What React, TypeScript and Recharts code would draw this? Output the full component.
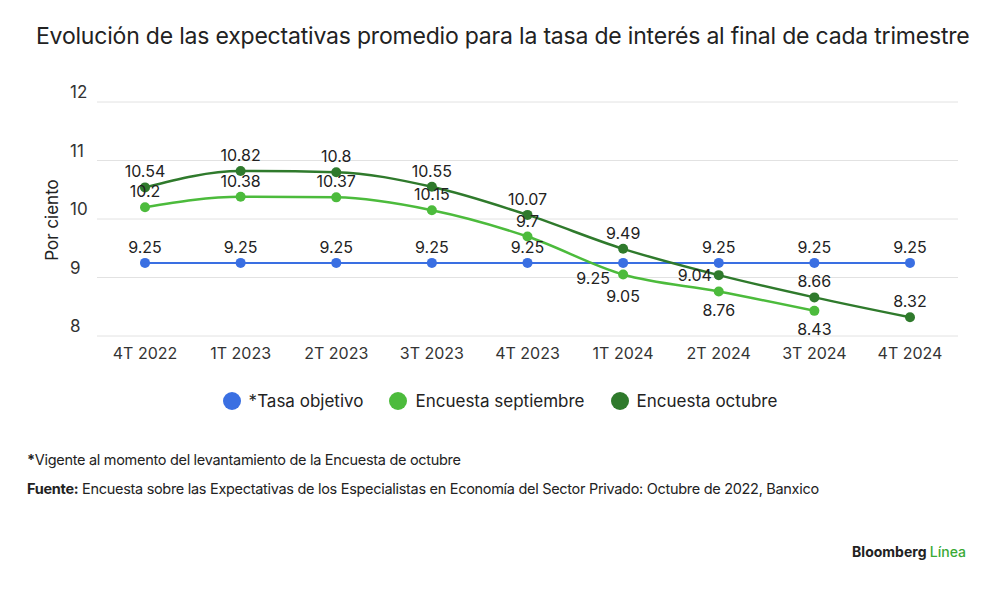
import React from 'react'
import { LineChart, Line, XAxis, YAxis, CartesianGrid, LabelList } from 'recharts'

const categories = ['4T 2022', '1T 2023', '2T 2023', '3T 2023', '4T 2023', '1T 2024', '2T 2024', '3T 2024', '4T 2024']
const tasaObjetivo = [9.25, 9.25, 9.25, 9.25, 9.25, 9.25, 9.25, 9.25, 9.25]
const encuestaSeptiembre = [10.2, 10.38, 10.37, 10.15, 9.7, 9.05, 8.76, 8.43, null]
const encuestaOctubre = [10.54, 10.82, 10.8, 10.55, 10.07, 9.49, 9.04, 8.66, 8.32]
const yTicks = [8, 9, 10, 11, 12]

const data = categories.map((c, i) => ({
  cat: c,
  tasa: tasaObjetivo[i],
  sep: encuestaSeptiembre[i],
  oct: encuestaOctubre[i],
}))

const BLUE = '#3a6fe2'
const LIGHT = '#4cbb3c'
const DARK = '#2f7a2c'
const FONT = 'Inter, "Noto Sans", sans-serif'

const YTick = (props: any) => (
  <text x={70} y={props.y - 4} fontSize={17} fill="#333" fontFamily={FONT}>
    {props.payload.value}
  </text>
)

const txt = (x: number, y: number, v: any) => (
  <text x={x} y={y} textAnchor="middle" fontSize={16} fill="#222" fontFamily={FONT}>
    {v}
  </text>
)

const sepLabel = (props: any) => {
  const { x, y, value, index } = props
  if (value == null) return null
  if (index === 5) return txt(x, y + 27, value)
  return index >= 5 ? txt(x, y + 24, value) : txt(x, y - 10, value)
}

const tasaLabel = (props: any) => {
  const { x, y, value, index } = props
  return index === 5 ? txt(x - 30, y + 21, value) : txt(x, y - 10, value)
}

const octLabel = (props: any) => {
  const { x, y, value, index } = props
  return index === 6 ? txt(x - 24, y + 6, value) : txt(x, y - 10, value)
}

const Dot = (color: string) => (p: any) =>
  p.value == null ? null : <circle cx={p.cx} cy={p.cy} r={5} fill={color} />

const legend = [
  { label: '*Tasa objetivo', color: BLUE },
  { label: 'Encuesta septiembre', color: LIGHT },
  { label: 'Encuesta octubre', color: DARK },
]

export default function App() {
  return (
    <div style={{ position: 'relative', width: 1000, height: 589, margin: -8, background: '#fff', fontFamily: FONT, color: '#222' }}>
      <div style={{ position: 'absolute', left: 36, top: 22, fontSize: 23, letterSpacing: -0.2 }}>
        Evolución de las expectativas promedio para la tasa de interés al final de cada trimestre
      </div>
      <div style={{ position: 'absolute', left: 0, top: 0 }}>
        <LineChart width={1000} height={380} data={data} margin={{ top: 102, right: 42, left: 0, bottom: 14 }}>
          <CartesianGrid vertical={false} stroke="#e2e2e2" />
          <XAxis dataKey="cat" axisLine={false} tickLine={false} height={30} padding={{ left: 48, right: 48 }}
            tick={{ fontSize: 16, fill: '#333', fontFamily: FONT }} dy={4} />
          <YAxis domain={[8, 12]} ticks={yTicks} width={97} axisLine={false} tickLine={false} tick={<YTick />} />
          <Line dataKey="tasa" stroke={BLUE} strokeWidth={2} dot={Dot(BLUE)} isAnimationActive={false}>
            <LabelList dataKey="tasa" content={tasaLabel} />
          </Line>
          <Line dataKey="sep" type="monotone" stroke={LIGHT} strokeWidth={2.5} dot={Dot(LIGHT)} isAnimationActive={false}>
            <LabelList dataKey="sep" content={sepLabel} />
          </Line>
          <Line dataKey="oct" type="monotone" stroke={DARK} strokeWidth={2.5} dot={Dot(DARK)} isAnimationActive={false}>
            <LabelList dataKey="oct" content={octLabel} />
          </Line>
        </LineChart>
      </div>
      <div style={{ position: 'absolute', left: 52, top: 220, transform: 'translate(-50%,-50%) rotate(-90deg)', fontSize: 17, whiteSpace: 'nowrap' }}>
        Por ciento
      </div>
      <div style={{ position: 'absolute', left: 0, width: 1000, top: 391, display: 'flex', justifyContent: 'center', gap: 26, fontSize: 17 }}>
        {legend.map((l) => (
          <div key={l.label} style={{ display: 'flex', alignItems: 'center', gap: 8 }}>
            <span style={{ width: 18, height: 18, borderRadius: 9, background: l.color, display: 'inline-block' }} />
            {l.label}
          </div>
        ))}
      </div>
      <div style={{ position: 'absolute', left: 27, top: 451, fontSize: 14.5, letterSpacing: -0.3 }}>
        <b>*</b>Vigente al momento del levantamiento de la Encuesta de octubre
      </div>
      <div style={{ position: 'absolute', left: 27, top: 480, fontSize: 14.5, letterSpacing: -0.3 }}>
        <b>Fuente:</b> Encuesta sobre las Expectativas de los Especialistas en Economía del Sector Privado: Octubre de 2022, Banxico
      </div>
      <div style={{ position: 'absolute', right: 34, top: 543, fontSize: 14, fontWeight: 700 }}>
        Bloomberg <span style={{ color: '#3aa935', fontWeight: 500 }}>Línea</span>
      </div>
    </div>
  )
}
